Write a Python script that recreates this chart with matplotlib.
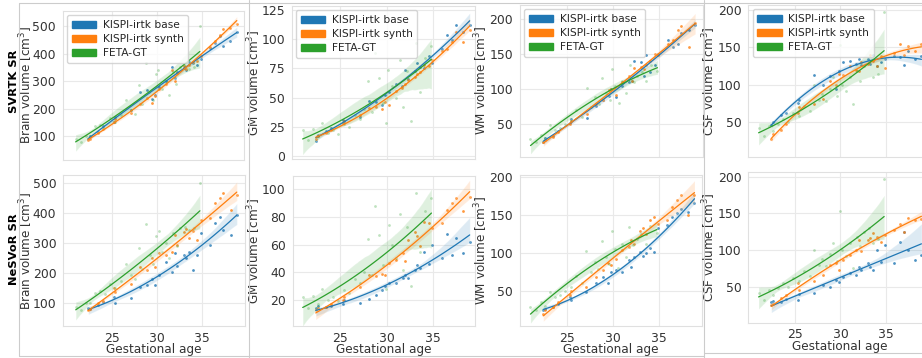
import matplotlib
matplotlib.use("Agg")
import matplotlib.pyplot as plt
from matplotlib.lines import Line2D
from matplotlib.patches import Patch
import seaborn as sns

# gestational ages of the KISPI subjects (shared by base and synth) and FeTA subjects
ki_ga = [22.4, 22.6, 23.5, 24.0, 25.3, 25.4, 27.1, 28.1, 28.9, 29.5, 29.8, 30.3, 31.0, 31.7,
         32.0, 32.3, 33.0, 33.3, 33.6, 34.0, 34.5, 34.9, 35.9, 36.5, 37.0, 37.4, 38.2, 38.9]
fe_ga = [21.0, 21.6, 22.1, 22.6, 23.1, 23.7, 24.2, 24.8, 25.4, 26.0, 26.6, 27.1, 27.6, 28.0, 28.4,
         28.8, 29.2, 29.6, 29.9, 30.2, 30.6, 31.0, 31.4, 31.8, 32.2, 32.6, 33.1, 33.6, 34.1, 34.8]

# FeTA ground truth volumes [cm3]
fe_brain = [88, 78, 100, 100, 135, 140, 130, 165, 150, 175, 230, 195, 180, 285, 215,
            365, 260, 230, 325, 340, 270, 300, 250, 335, 290, 350, 355, 345, 350, 500]
fe_gm = [22, 14, 23, 17, 28, 20, 22, 19, 27, 25, 35, 32, 40, 64, 38,
         88, 67, 45, 28, 74, 60, 50, 82, 42, 73, 30, 97, 55, 84, 94]
fe_wm = [28, 24, 35, 30, 48, 42, 45, 50, 55, 70, 60, 102, 75, 88, 78,
         116, 95, 85, 128, 105, 80, 112, 95, 134, 110, 118, 125, 112, 135, 126]
fe_csf = [42, 32, 45, 38, 48, 55, 50, 62, 58, 72, 65, 100, 80, 88, 78,
          95, 110, 85, 153, 100, 92, 110, 75, 118, 105, 125, 130, 110, 115, 197]

# SVRTK SR
svr_brain_base = [90, 100, 115, 135, 150, 168, 195, 262, 266, 234, 250, 280, 300, 353,
                  310, 335, 347, 340, 370, 365, 360, 380, 420, 440, 465, 430, 445, 478]
svr_brain_synth = [85, 88, 110, 125, 150, 160, 185, 215, 240, 220, 245, 270, 290, 340,
                   300, 330, 355, 345, 360, 370, 375, 390, 425, 445, 470, 490, 495, 510]
svr_gm_base = [13, 18, 21, 24, 31, 30, 33, 47, 46, 44, 52, 55, 62, 60,
               74, 66, 73, 80, 76, 75, 86, 80, 92, 104, 99, 112, 106, 112]
svr_gm_synth = [15, 17, 20, 22, 28, 30, 35, 41, 42, 40, 46, 44, 56, 58,
                62, 65, 68, 70, 72, 78, 77, 82, 90, 92, 98, 106, 98, 108]
svr_wm_base = [25, 30, 33, 40, 52, 57, 58, 76, 85, 90, 100, 88, 105, 110,
               112, 140, 138, 118, 148, 125, 135, 150, 170, 160, 165, 180, 185, 192]
svr_wm_synth = [24, 27, 32, 38, 50, 55, 65, 78, 85, 98, 100, 92, 110, 118,
                112, 130, 132, 128, 135, 140, 150, 148, 165, 170, 185, 190, 160, 195]
svr_csf_base = [47, 50, 60, 62, 76, 80, 113, 100, 112, 95, 118, 130, 132, 128,
                134, 126, 135, 128, 140, 125, 130, 135, 138, 137, 126, 145, 135, 138]
svr_csf_synth = [28, 35, 40, 48, 62, 70, 75, 81, 105, 100, 115, 113, 125, 120,
                 118, 130, 128, 140, 132, 125, 138, 122, 142, 155, 140, 152, 145, 155]

# NeSVoR SR
nes_brain_base = [85, 82, 95, 105, 122, 100, 116, 155, 160, 182, 160, 195, 239, 205,
                  268, 225, 261, 250, 272, 211, 262, 333, 294, 367, 389, 345, 328, 395]
nes_brain_synth = [78, 82, 100, 108, 150, 138, 165, 222, 211, 250, 222, 268, 262, 272,
                   328, 295, 339, 347, 318, 340, 311, 378, 385, 433, 450, 467, 411, 461]
nes_gm_base = [14, 16, 15, 16, 17, 20, 18, 21, 23.5, 27, 30, 32, 32, 35.7,
               38, 36, 41.7, 45, 43, 55, 45.8, 59.8, 50, 68, 52.5, 64.6, 54, 62]
nes_gm_synth = [13, 14, 15, 17, 20, 22, 29.6, 38, 37, 39, 38, 46.5, 49, 53.7,
                48, 63, 69, 66, 59, 76.6, 75.4, 71.8, 75.4, 85, 90, 93.5, 84, 94.7]
nes_wm_base = [24, 26, 28, 33, 42, 38, 48.7, 60, 68, 60, 75, 77, 75, 90,
               81.6, 95, 101, 95.6, 99, 105.7, 101, 133, 136, 147, 152.6, 158, 154, 165]
nes_wm_synth = [19, 24, 28, 35, 44, 50, 55, 68, 77, 86, 84, 92, 104, 108,
                117, 112, 128, 132, 125, 143, 147, 138, 143, 160, 169, 176, 150, 176]
nes_csf_base = [29.5, 30, 29.5, 33, 32, 40, 41, 52, 50, 59, 56, 63.6, 68, 66,
                77, 72.7, 81.8, 77, 72.7, 100, 83, 107, 82, 111, 125, 100, 86, 93]
nes_csf_synth = [25, 26, 34, 38, 54.5, 46, 58, 66, 79.5, 82, 72.7, 86, 93, 100,
                 113.6, 98, 113.6, 116, 122.7, 118, 111, 120, 127, 136, 125, 143, 141, 142]

series_names = ["KISPI-irtk base", "KISPI-irtk synth", "FETA-GT"]
row_names = ["SVRTK SR", "NeSVoR SR"]
measures = ["Brain", "GM", "WM", "CSF"]
colors = ["#1f77b4", "#ff7f0e", "#2ca02c"]

data = {
    (0, 0): (svr_brain_base, svr_brain_synth, fe_brain),
    (0, 1): (svr_gm_base, svr_gm_synth, fe_gm),
    (0, 2): (svr_wm_base, svr_wm_synth, fe_wm),
    (0, 3): (svr_csf_base, svr_csf_synth, fe_csf),
    (1, 0): (nes_brain_base, nes_brain_synth, fe_brain),
    (1, 1): (nes_gm_base, nes_gm_synth, fe_gm),
    (1, 2): (nes_wm_base, nes_wm_synth, fe_wm),
    (1, 3): (nes_csf_base, nes_csf_synth, fe_csf),
}

# layout: pixel box (x0, y0, x1, y1), xlim, ylim, yticks
layout = {
    (0, 0): ((63, 11, 244, 159.5), (19.6, 39.7), (14, 556), [100, 200, 300, 400, 500]),
    (0, 1): ((292, 6, 475, 159.3), (19.86, 39.47), (-2.8, 128.4), [0, 25, 50, 75, 100, 125]),
    (0, 2): ((520, 5, 702.7, 156.7), (19.86, 39.72), (3.3, 220), [50, 100, 150, 200]),
    (0, 3): ((748.3, 5, 931, 156.7), (19.87, 39.95), (4.1, 206.7), [50, 100, 150, 200]),
    (1, 0): ((63.3, 175, 245, 326), (19.62, 39.81), (24.3, 527.7), [100, 200, 300, 400, 500]),
    (1, 1): ((292.7, 176, 475, 326), (19.93, 39.47), (1.2, 109.6), [20, 40, 60, 80, 100]),
    (1, 2): ((520, 175, 702, 326), (19.86, 39.72), (3.6, 202.2), [50, 100, 150, 200]),
    (1, 3): ((748.3, 171.7, 931, 322.7), (19.87, 39.95), (0.9, 206.8), [50, 100, 150, 200]),
}
ylabel_x = [35, 263, 490, 718]      # right edge of the y label, pixels
xlabel_top = {0: 343.5, 1: 343.5, 2: 343.5, 3: 340.2}
row_label_y = [81, 249]

sns.set_style("whitegrid", {"grid.color": "#e9e9e9", "axes.edgecolor": "#e0e0e0"})
plt.rcParams["font.family"] = ["DejaVu Sans"]
plt.rcParams["axes.linewidth"] = 0.8
plt.rcParams["grid.linewidth"] = 0.8

fs_label = 8.64
fs_tick = 8.88
fs_leg = 7.62
fs_row = 8.26
text_c = "#333333"

W, H = 922, 358
fig = plt.figure(figsize=(W / 100, H / 100), dpi=100)

for (r, c), series in data.items():
    (x0, y0, x1, y1), xlim, ylim, yticks = layout[(r, c)]
    ax = fig.add_axes([x0 / W, 1 - y1 / H, (x1 - x0) / W, (y1 - y0) / H])
    for vals, ga, col, a in zip(series, [ki_ga, ki_ga, fe_ga], colors, [0.8, 0.8, 0.3]):
        sns.regplot(x=ga, y=vals, order=2, ci=95, seed=0, ax=ax, color=col,
                    scatter_kws=dict(s=4, alpha=a, linewidths=0),
                    line_kws=dict(lw=0.9))
    ax.set_xlim(*xlim)
    ax.set_ylim(*ylim)
    ax.set_xticks([25, 30, 35])
    ax.set_yticks(yticks)
    ax.tick_params(labelsize=fs_tick, colors=text_c)
    ax.tick_params(axis="y", pad=1.5)
    ax.tick_params(axis="x", pad=0.5)
    ax.set_ylabel(measures[c] + " volume [cm$^3$]", fontsize=fs_label, color=text_c)
    ax.yaxis.set_label_coords((ylabel_x[c] - x0) / (x1 - x0), 0.5)
    if r == 0:
        ax.set_xlabel("")
        ax.tick_params(labelbottom=False)
        handles = [Patch(facecolor=col, edgecolor=col, label=n) for n, col in zip(series_names, colors)]
        ax.legend(handles=handles, loc="upper left", fontsize=fs_leg, handlelength=2.3,
                  labelspacing=0.4, handletextpad=0.6, borderpad=0.45, borderaxespad=0.4,
                  framealpha=0.8)
    else:
        ax.set_xlabel("Gestational age", fontsize=fs_label, color=text_c)
        ax.xaxis.set_label_coords(0.5, -(xlabel_top[c] - y1) / (y1 - y0))

for name, yc in zip(row_names, row_label_y):
    fig.text(14 / W, 1 - yc / H, name, rotation=90, ha="center", va="center",
             fontsize=fs_row, fontweight="bold", color="black")

# borders of the stitched panel images
for (xa, ya), (xb, yb) in [((19, 3), (19, 356)), ((19, 3), (922, 3)), ((249, 0), (249, 358)),
                           ((704, 0), (704, 358)), ((19, 356), (704, 356)),
                           ((704, 352.5), (922, 352.5))]:
    fig.add_artist(Line2D([xa / W, xb / W], [1 - ya / H, 1 - yb / H],
                          transform=fig.transFigure, color="#cccccc", lw=0.8))

fig.savefig("out.png", dpi=100)
